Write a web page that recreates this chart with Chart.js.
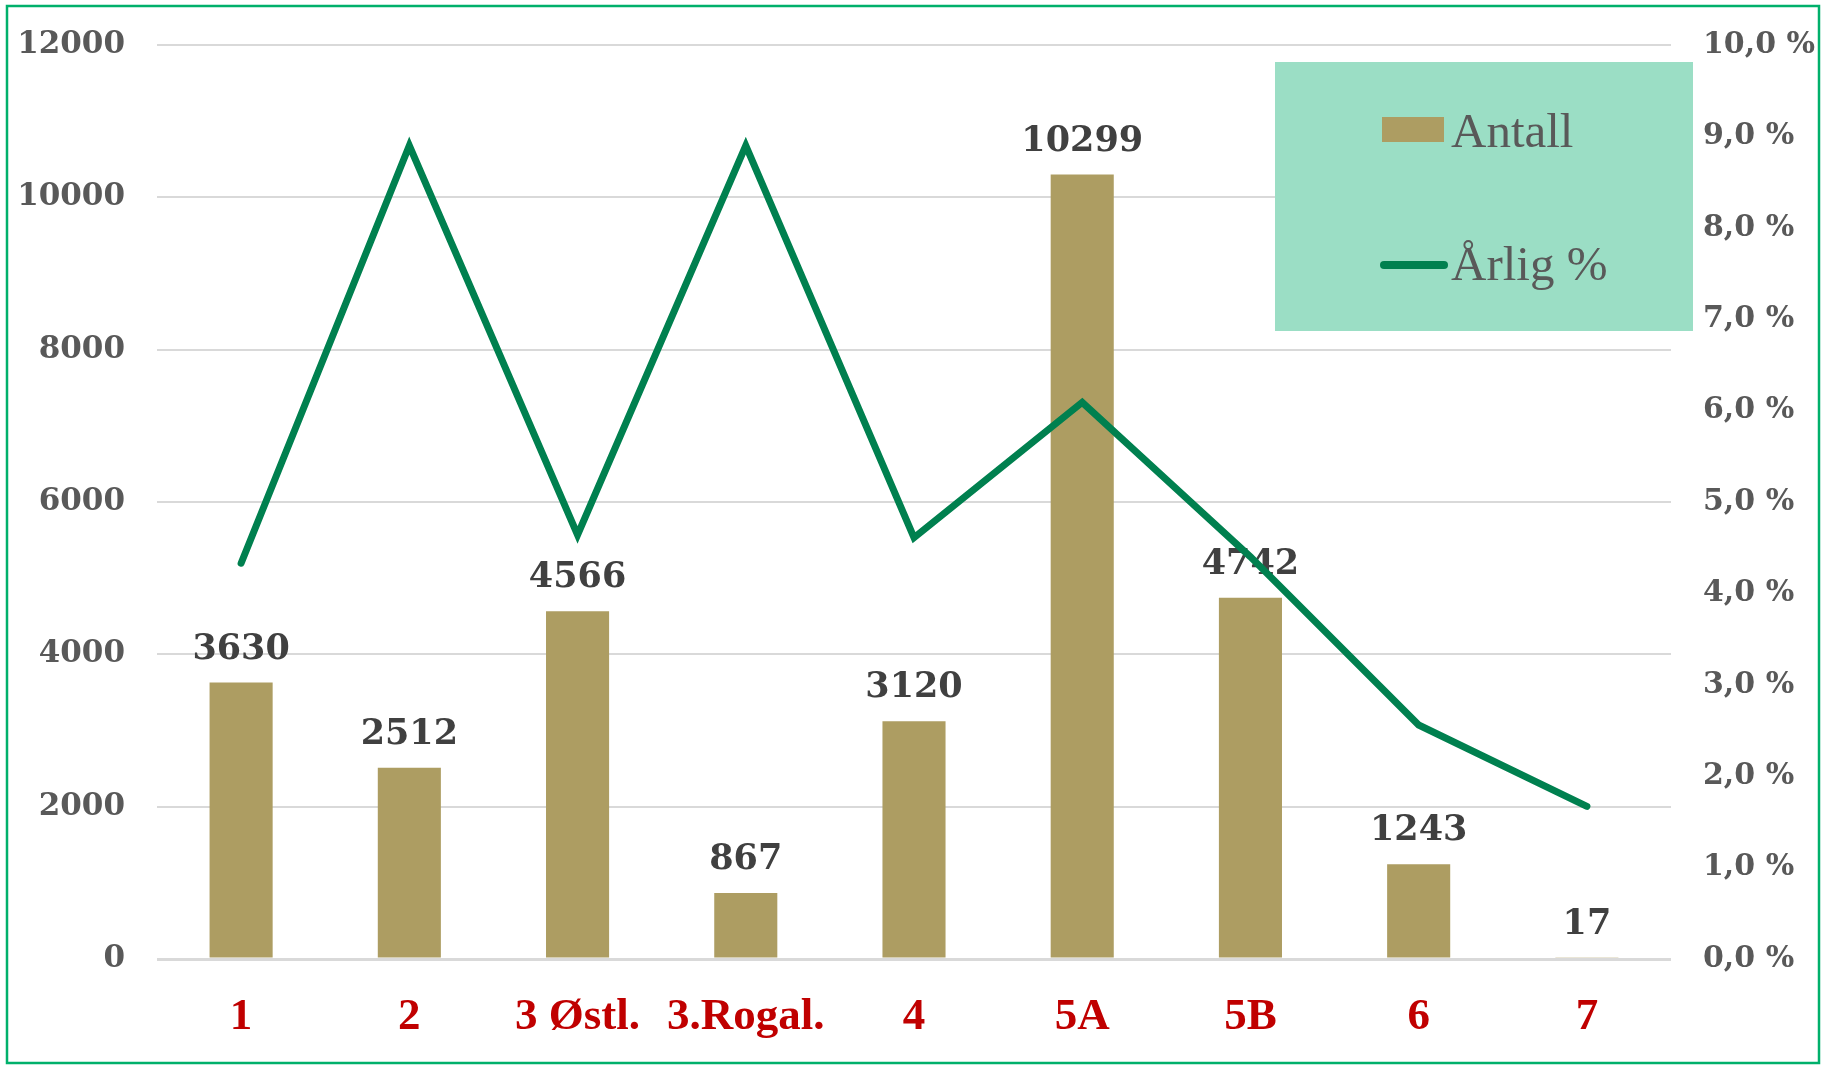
<!DOCTYPE html>
<html>
<head>
<meta charset="utf-8">
<script src="https://cdn.jsdelivr.net/npm/chart.js@4/dist/chart.umd.min.js"></script>
<style>
  html, body { margin: 0; padding: 0; background: #fff; }
  #wrap { width: 1821px; height: 1065px; position: relative; }
</style>
</head>
<body>
<div id="wrap"><canvas id="chart" width="1821" height="1065"></canvas></div>
<script>
// data
const categories = ['1', '2', '3 Østl.', '3.Rogal.', '4', '5A', '5B', '6', '7'];
const antall = [3630, 2512, 4566, 867, 3120, 10299, 4742, 1243, 17];
const arligPct = [4.33, 8.9, 4.64, 8.9, 4.61, 6.09, 4.4, 2.56, 1.67];

// axis ranges
const leftMax = 12000, leftStep = 2000;
const rightMax = 10, rightStep = 1;

const barColor = '#AD9D62';
const lineColor = '#00804F';

// value labels above the bars (drawn before the line so the line sits on top)
const barLabels = {
  id: 'barLabels',
  afterDatasetDraw(chart, args) {
    if (args.index !== 0) return;
    const ctx = chart.ctx;
    const meta = chart.getDatasetMeta(0);
    ctx.save();
    ctx.font = 'bold 35px "DejaVu Serif"';
    ctx.fillStyle = '#404040';
    ctx.textAlign = 'center';
    ctx.textBaseline = 'alphabetic';
    meta.data.forEach((bar, i) => {
      ctx.fillText(String(antall[i]), bar.x, bar.y - 24);
    });
    ctx.restore();
  }
};

// legend box in the top right corner of the plot
const legendBox = {
  id: 'legendBox',
  beforeDatasetsDraw(chart) {
    const ctx = chart.ctx;
    const a = chart.chartArea;
    const ds = chart.data.datasets;
    const x0 = a.right - 396, y0 = a.top + 17;
    ctx.save();
    ctx.fillStyle = '#9BDEC5';
    ctx.fillRect(x0, y0, 418, 269);

    ctx.fillStyle = ds[0].backgroundColor;
    ctx.fillRect(x0 + 107, y0 + 55, 62, 25);

    ctx.strokeStyle = ds[1].borderColor;
    ctx.lineWidth = 8;
    ctx.lineCap = 'round';
    ctx.beginPath();
    ctx.moveTo(x0 + 109, y0 + 203);
    ctx.lineTo(x0 + 169, y0 + 203);
    ctx.stroke();

    ctx.font = '49px "Liberation Serif"';
    ctx.fillStyle = '#595959';
    ctx.textAlign = 'left';
    ctx.textBaseline = 'alphabetic';
    ctx.fillText(ds[0].label, x0 + 176, y0 + 85);
    ctx.fillText(ds[1].label, x0 + 176, y0 + 218);
    ctx.restore();
  }
};

// green frame round the whole chart
const frame = {
  id: 'frame',
  afterDraw(chart) {
    const ctx = chart.ctx;
    ctx.save();
    ctx.strokeStyle = '#00B06B';
    ctx.lineWidth = 2.5;
    ctx.strokeRect(7, 6, chart.width - 9, chart.height - 8);
    ctx.restore();
  }
};

// fixed axis sizes so the plot area lines up with the reference
const fitY = width => s => {
  s.width = width;
  s.paddingTop = 0;
  s.paddingBottom = 0;
};

function draw() {
  new Chart(document.getElementById('chart').getContext('2d'), {
    data: {
      labels: categories,
      datasets: [
        {
          type: 'bar',
          label: 'Antall',
          data: antall,
          backgroundColor: barColor,
          borderWidth: 0,
          categoryPercentage: 1,
          barPercentage: 0.375,
          yAxisID: 'y',
          order: 2
        },
        {
          type: 'line',
          label: 'Årlig %',
          data: arligPct,
          borderColor: lineColor,
          backgroundColor: lineColor,
          borderWidth: 7,
          borderCapStyle: 'round',
          borderJoinStyle: 'miter',
          pointRadius: 0,
          tension: 0,
          fill: false,
          yAxisID: 'y1',
          order: 1
        }
      ]
    },
    options: {
      responsive: false,
      animation: false,
      layout: { padding: { top: 45, left: 0, right: 0, bottom: 0 } },
      plugins: {
        legend: { display: false },
        tooltip: { enabled: false }
      },
      scales: {
        x: {
          offset: true,
          grid: { display: false, drawTicks: false },
          border: { display: false },
          ticks: {
            color: '#C00000',
            font: { family: 'Liberation Serif', weight: 'bold', size: 45 },
            padding: 31,
            maxRotation: 0,
            autoSkip: false
          },
          afterFit: s => { s.height = 106; }
        },
        y: {
          position: 'left',
          min: 0,
          max: leftMax,
          grid: {
            color: '#D9D9D9',
            lineWidth: c => (c.tick && c.tick.value === 0 ? 3 : 2),
            drawTicks: false
          },
          border: { display: false },
          ticks: {
            stepSize: leftStep,
            color: '#595959',
            font: { family: 'DejaVu Serif', weight: 'bold', size: 31 },
            padding: 32,
            callback: v => String(v)
          },
          afterFit: fitY(157)
        },
        y1: {
          position: 'right',
          min: 0,
          max: rightMax,
          grid: { display: false, drawTicks: false },
          border: { display: false },
          ticks: {
            stepSize: rightStep,
            color: '#595959',
            font: { family: 'DejaVu Serif', weight: 'bold', size: 30 },
            padding: 32,
            callback: v => v.toFixed(1).replace('.', ',') + ' %'
          },
          afterFit: fitY(150)
        }
      }
    },
    plugins: [barLabels, legendBox, frame]
  });
}

Promise.all([
  document.fonts.load('bold 45px "Liberation Serif"'),
  document.fonts.load('49px "Liberation Serif"'),
  document.fonts.load('bold 35px "DejaVu Serif"')
]).then(draw, draw);
</script>
</body>
</html>
